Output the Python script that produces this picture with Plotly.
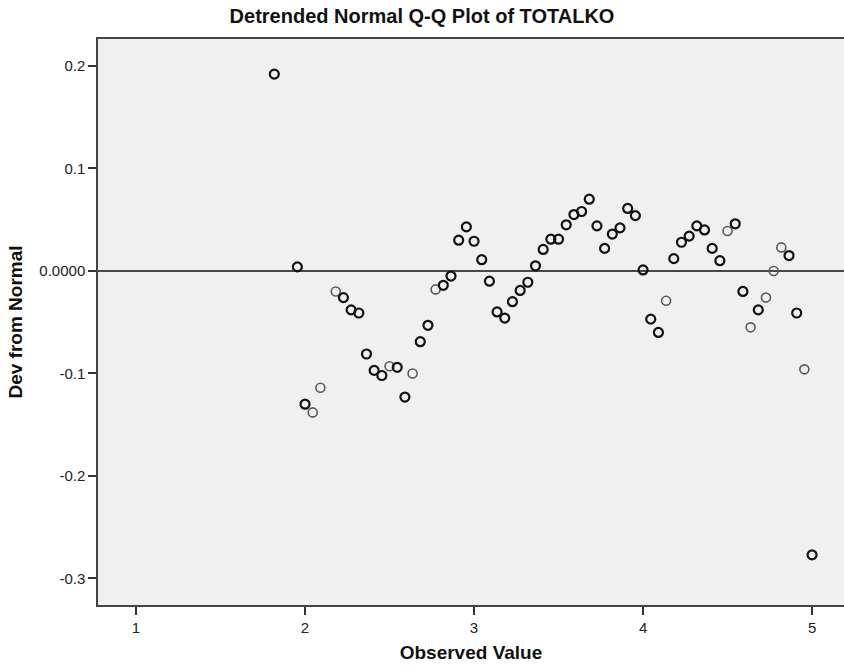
import plotly.graph_objects as go

# Observed values are multiples of 1/22
n_dark = [40, 43, 44, 49, 50, 51, 52, 53, 54, 56, 57, 59, 60, 62, 63, 64, 65, 66, 67, 68,
          69, 70, 71, 72, 73, 74, 75, 76, 77, 78, 79, 80, 81, 82, 83, 84, 85, 86, 87, 88,
          89, 90, 92, 93, 94, 95, 96, 97, 98, 100, 101, 103, 107, 108, 110]
dev_dark = [0.192, 0.004, -0.130, -0.026, -0.038, -0.041, -0.081, -0.097, -0.102, -0.094,
            -0.123, -0.069, -0.053, -0.014, -0.005, 0.030, 0.043, 0.029, 0.011, -0.010,
            -0.040, -0.046, -0.030, -0.019, -0.011, 0.005, 0.021, 0.031, 0.031, 0.045,
            0.055, 0.058, 0.070, 0.044, 0.022, 0.036, 0.042, 0.061, 0.054, 0.001,
            -0.047, -0.060, 0.012, 0.028, 0.034, 0.044, 0.040, 0.022, 0.010, 0.046,
            -0.020, -0.038, 0.015, -0.041, -0.277]

n_gray = [45, 46, 48, 55, 58, 61, 91, 99, 102, 104, 105, 106, 109]
dev_gray = [-0.138, -0.114, -0.020, -0.093, -0.100, -0.018, -0.029, 0.039, -0.055, -0.026,
            0.000, 0.023, -0.096]

x_dark = [n / 22 for n in n_dark]
x_gray = [n / 22 for n in n_gray]

y_tickvals = [0.2, 0.1, 0.0, -0.1, -0.2, -0.3]
y_ticktext = ["0.2", "0.1", "0.0000", "-0.1", "-0.2", "-0.3"]
x_tickvals = [1, 2, 3, 4, 5]
x_ticktext = ["1", "2", "3", "4", "5"]

fig = go.Figure()
fig.add_hline(y=0, line=dict(color="#111111", width=1.6), layer="below")
fig.add_trace(go.Scatter(
    x=x_gray, y=dev_gray, mode="markers", showlegend=False, hoverinfo="skip",
    marker=dict(symbol="circle-open", size=9, color="#5a5a5a", line=dict(width=1.6, color="#5a5a5a")),
))
fig.add_trace(go.Scatter(
    x=x_dark, y=dev_dark, mode="markers", showlegend=False, hoverinfo="skip",
    marker=dict(symbol="circle-open", size=9, color="#111111", line=dict(width=2.2, color="#111111")),
))

font_family = "Liberation Sans, Arial, sans-serif"
fig.update_layout(
    width=844, height=672,
    margin=dict(l=98, r=0, t=39, b=67),
    paper_bgcolor="white",
    plot_bgcolor="#F0F0F0",
    title=dict(text="<b>Detrended Normal Q-Q Plot of TOTALKO</b>", x=0.5, xref="container",
               xanchor="center", y=1 - 16 / 672, yref="container", yanchor="middle",
               font=dict(family=font_family, size=20, color="#111111")),
    font=dict(family=font_family),
    xaxis=dict(
        range=[0.775, 5.189], tickvals=x_tickvals, ticktext=x_ticktext,
        showgrid=False, zeroline=False, showline=True, linecolor="#444444", linewidth=1.5,
        mirror=True, ticks="outside", ticklen=8, tickwidth=1.5, tickcolor="#333333",
        tickfont=dict(size=15, color="#222222"),
        title=dict(text="<b>Observed Value</b>", font=dict(size=19, color="#111111"), standoff=11),
    ),
    yaxis=dict(
        range=[-0.3259, 0.2263], tickvals=y_tickvals, ticktext=y_ticktext,
        showgrid=False, zeroline=False, showline=True, linecolor="#444444", linewidth=1.5,
        ticks="outside", ticklen=8, tickwidth=1.5, tickcolor="#333333",
        tickfont=dict(size=15, color="#222222"),
        title=dict(text="<b>Dev from Normal</b>", font=dict(size=19, color="#111111"), standoff=12),
    ),
)

fig.write_html("out.html")
